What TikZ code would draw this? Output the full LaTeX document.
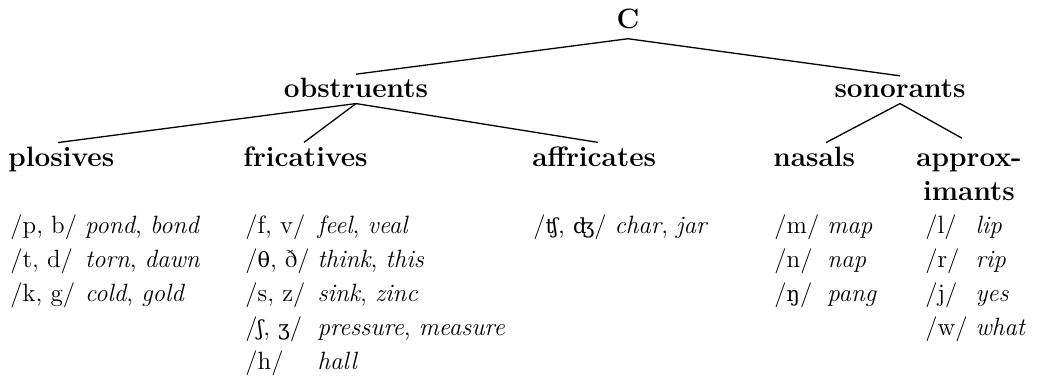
\documentclass[tikz,border=0pt]{standalone}
\usepackage{fontspec}
\newfontfamily\ipa{DejaVu Serif}[Scale=MatchLowercase]
\newcommand{\ip}[1]{{\ipa #1}}
\begin{document}
\begin{tikzpicture}[x=0.5pt,y=-0.5pt,
  lab/.style={font=\fontsize{14}{17}\selectfont\bfseries, inner sep=0pt},
  tab/.style={font=\fontsize{12.5}{17}\selectfont, inner sep=0pt, anchor=base west},
  edge/.style={line width=0.65pt}]
\useasboundingbox (0,0) rectangle (1037,375);
% category labels
\node[lab, anchor=base] (C) at (628,28) {C};
\node[lab, anchor=base] (obs) at (356,97) {obstruents};
\node[lab, anchor=base] (son) at (900,97) {sonorants};
\node[lab, anchor=base west] (plo) at (8,166) {plosives};
\node[lab, anchor=base west] (fri) at (243,166) {fricatives};
\node[lab, anchor=base west] (aff) at (532,166) {affricates};
\node[lab, anchor=base west] (nas) at (773,166) {nasals};
\node[lab, anchor=base] (app) at (969,166) {\begin{tabular}[t]{@{}c@{}}approx-\\imants\end{tabular}};
% example tables
\node[tab] (plot) at (10,233) {\begin{tabular}[t]{@{}l@{\hspace{4pt}}l@{}}
/p, b/ & \textit{pond}, \textit{bond}\\
/t, d/ & \textit{torn}, \textit{dawn}\\
/k, g/ & \textit{cold}, \textit{gold}
\end{tabular}};
\node[tab] (frit) at (245,233) {\begin{tabular}[t]{@{}l@{\hspace{4pt}}l@{}}
/f, v/ & \textit{feel}, \textit{veal}\\
/\ip{θ}, ð/ & \textit{think}, \textit{this}\\
/s, z/ & \textit{sink}, \textit{zinc}\\
/\ip{ʃ}, \ip{ʒ}/ & \textit{pressure}, \textit{measure}\\
/h/ & \textit{hall}
\end{tabular}};
\node[tab] (afft) at (533,233) {\begin{tabular}[t]{@{}l@{\hspace{4pt}}l@{}}
/\ip{ʧ}, \ip{ʤ}/ & \textit{char}, \textit{jar}
\end{tabular}};
\node[tab] (nast) at (774,233) {\begin{tabular}[t]{@{}l@{\hspace{4pt}}l@{}}
/m/ & \textit{map}\\
/n/ & \textit{nap}\\
/\ip{ŋ}/ & \textit{pang}
\end{tabular}};
\node[tab] (appt) at (925,233) {\begin{tabular}[t]{@{}l@{\hspace{4pt}}l@{}}
/l/ & \textit{lip}\\
/r/ & \textit{rip}\\
/j/ & \textit{yes}\\
/w/ & \textit{what}
\end{tabular}};
% connectors
\draw[edge] ([yshift=-5pt]C.south) -- ([yshift=1.5pt]obs.north);
\draw[edge] ([yshift=-5pt]C.south) -- ([yshift=1.5pt]son.north);
\draw[edge] ([yshift=-3pt]obs.south) -- ([xshift=25pt,yshift=1.8pt]plo.north west);
\draw[edge] ([yshift=-3pt]obs.south) -- ([xshift=30.5pt,yshift=1.8pt]fri.north west);
\draw[edge] ([yshift=-3pt]obs.south) -- ([xshift=33pt,yshift=1.8pt]aff.north west);
\draw[edge] ([yshift=-3pt]son.south) -- ([xshift=26.5pt,yshift=1.8pt]nas.north west);
\draw[edge] ([yshift=-3pt]son.south) -- ([xshift=-3.5pt,yshift=1.8pt]app.north);
\end{tikzpicture}
\end{document}
